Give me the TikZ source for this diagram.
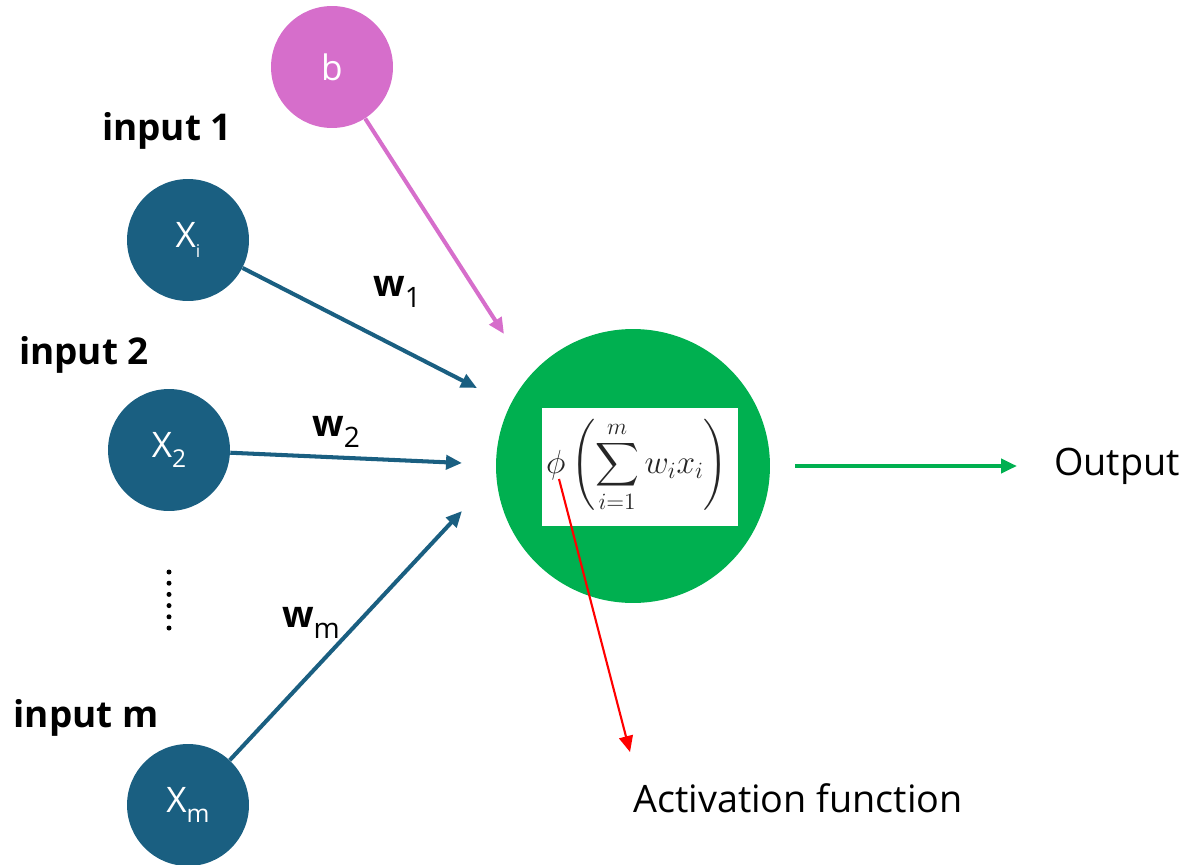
\documentclass[tikz,border=0pt]{standalone}
\usepackage{fix-cm}
\usepackage{amsmath}
\usepackage{fontspec}
\setmainfont{Open Sans}
\usetikzlibrary{arrows.meta}
\definecolor{nblue}{HTML}{1A5F81}
\definecolor{npink}{HTML}{D66ECB}
\definecolor{ngreen}{HTML}{00B050}
\definecolor{nred}{HTML}{FF0000}
\newcommand{\lowsub}[2]{\raisebox{-0.28em}{\fontsize{#1}{#1}\selectfont #2}}
\begin{document}
\begin{tikzpicture}[x=0.02cm,y=-0.02cm,
  innode/.style={circle, fill=nblue, minimum size=2.44cm, inner sep=0pt, text=white, font=\fontsize{20}{24}\selectfont},
  biasnode/.style={circle, fill=npink, minimum size=2.44cm, inner sep=0pt, text=white, font=\fontsize{20}{24}\selectfont},
  sumnode/.style={circle, fill=ngreen, minimum size=5.48cm, inner sep=0pt},
  lbl/.style={font=\fontsize{21}{25}\selectfont\bfseries, inner sep=0pt},
  plain/.style={font=\fontsize{21.5}{25}\selectfont, inner sep=0pt},
  tip/.style={-{Triangle[length=0.32cm,width=0.28cm]}},
  conn/.style={tip, line width=2.3pt}
]
\useasboundingbox (0,0) rectangle (1186,865);

% nodes
\node[biasnode] (b) at (332,67) {b};
\node[innode] (x1) at (188,240) {X\lowsub{10}{i}};
\node[innode] (x2) at (169,450) {X\lowsub{14}{2}};
\node[innode] (xm) at (188,805) {X\lowsub{14}{m}};
\node[sumnode] (s) at (633,466) {};
\node[fill=white, minimum width=3.92cm, minimum height=2.36cm, inner sep=0pt] (box) at (640,467) {};
\node[inner sep=0pt, text=black!85] (f) at (637,466) {\fontsize{19}{21}\selectfont$\displaystyle \phi\left(\sum_{i=1}^{m} w_i x_i\right)$};

% labels
\node[lbl] (in1) at (167,131) {input 1};
\node[lbl] (in2) at (84,355) {input 2};
\node[lbl] (inm) at (86,718) {input m};
\node[lbl] (w1) at (397,292) {w\lowsub{16}{\mdseries 1}};
\node[lbl] (w2) at (336,432) {w\lowsub{16}{\mdseries 2}};
\node[lbl] (wm) at (311,623) {w\lowsub{16}{\mdseries m}};
\node[plain, anchor=west] (out) at (1054,466) {Output};
\node[plain, anchor=west] (act) at (633,798) {Activation function};

% dots
\foreach \k in {0,...,5} \fill (169,{572+11.2*\k}) circle (2.5);

% connector end points
\coordinate (t1) at (477,388);
\coordinate (t2) at (462,463);
\coordinate (tm) at (462,511);
\coordinate (tb) at (504,334);
\coordinate (o1) at (795,466);
\coordinate (o2) at (1017,466);
\coordinate (phib) at (559,479);
\coordinate (a2) at (630,752);

% connectors
\draw[conn, nblue] (x1) -- (t1);
\draw[conn, nblue] (x2) -- (t2);
\draw[conn, nblue] (xm) -- (tm);
\draw[conn, npink] (b) -- (tb);
\draw[conn, ngreen] (o1) -- (o2);
\draw[tip, nred, line width=1.2pt] (phib) -- (a2);
\end{tikzpicture}
\end{document}
